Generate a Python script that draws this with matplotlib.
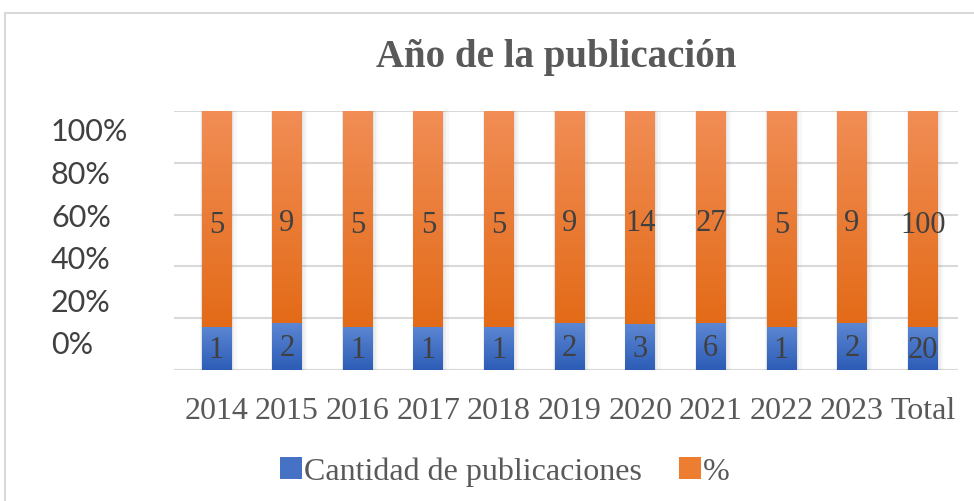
import matplotlib
matplotlib.use("Agg")
import matplotlib.pyplot as plt
import numpy as np
from matplotlib.patches import Rectangle
import matplotlib.transforms as mtrans

years = ['2014', '2015', '2016', '2017', '2018', '2019', '2020', '2021', '2022', '2023', 'Total']
cantidad = [1, 2, 1, 1, 1, 2, 3, 6, 1, 2, 20]
porcentaje = [5, 9, 5, 5, 5, 9, 14, 27, 5, 9, 100]
ytick_vals = [0, 20, 40, 60, 80, 100]
ytick_labels = ['0%', '20%', '40%', '60%', '80%', '100%']

W, H = 974, 502
fig = plt.figure(figsize=(W / 100, H / 100), dpi=100)
fig.patch.set_facecolor('white')

# chart-area border
fig.patches.append(Rectangle((5 / W, -0.1), 1.2, (H - 14) / H + 0.1, transform=fig.transFigure,
                             fill=False, edgecolor='#D9D9D9', linewidth=1.5))

ax = fig.add_axes([174 / W, 1 - 371 / H, (958 - 174) / W, (371 - 112) / H])
x = np.arange(len(years))
c = np.array(cantidad, float)
p = np.array(porcentaje, float)
tot = c + p
share_c = c / tot * 100
share_p = p / tot * 100
bw = 0.42

def grad_bar(xc, bottom, height, ctop, cbot):
    top_rgb = np.array(matplotlib.colors.to_rgb(ctop))
    bot_rgb = np.array(matplotlib.colors.to_rgb(cbot))
    t = np.linspace(0, 1, 64)[:, None]
    img = top_rgb * (1 - t) + bot_rgb * t
    img = img[:, None, :]
    ax.imshow(img, extent=[xc - bw / 2, xc + bw / 2, bottom, bottom + height],
              aspect='auto', zorder=3, interpolation='bilinear')

for i in range(len(years)):
    # soft shadow
    for k, a in [(0.06, 0.05), (0.035, 0.08), (0.015, 0.1)]:
        ax.add_patch(Rectangle((x[i] - bw / 2 - k * 0.3, -0.5), bw + k * 1.6, 100.5,
                               facecolor='#7f7f7f', alpha=a, edgecolor='none', zorder=2))
    grad_bar(x[i], 0, share_c[i], '#5C87D3', '#2C5CB6')
    grad_bar(x[i], share_c[i], share_p[i], '#F18D55', '#E36B18')
    ax.text(x[i], share_c[i] / 2 - 0.5, str(cantidad[i]), ha='center', va='center',
            fontsize=22, family='Liberation Serif', color='#404040', zorder=5)
    ax.text(x[i], share_c[i] + share_p[i] / 2 - 2, str(porcentaje[i]), ha='center', va='center',
            fontsize=22, family='Liberation Serif', color='#404040', zorder=5)

ax.set_xlim(-0.60, len(years) - 0.5)
ax.set_ylim(0, 100)
ax.set_yticks(ytick_vals)
ax.set_yticklabels([])
ax.tick_params(axis='y', length=0)
ax.grid(axis='y', color='#D9D9D9', linewidth=1.5, zorder=0)
ax.set_axisbelow(True)
for s in ax.spines.values():
    s.set_visible(False)
ax.set_xticks(x)
ax.set_xticklabels(years, fontsize=23, family='Liberation Serif', color='#595959')
ax.tick_params(axis='x', length=0, pad=19)
ax.axhline(0, color='#D9D9D9', linewidth=1.5, zorder=1)

# y labels (offset like the reference)
tr = mtrans.blended_transform_factory(fig.transFigure, ax.transAxes)
for v, lab in zip(ytick_vals, ytick_labels):
    ax.text(51 / W, 0.100 + v / 100 * 0.821, lab, transform=tr, ha='left', va='center',
            fontsize=22, family='Lato', color='#404040')

fig.text(556 / W, 1 - 58 / H, 'Año de la publicación', ha='center', va='center',
         fontsize=28, fontweight='bold', family='Liberation Serif', color='#595959')

handles = [Rectangle((0, 0), 1, 1, facecolor='#4572C4'), Rectangle((0, 0), 1, 1, facecolor='#ED7D31')]
leg = fig.legend(handles, ['Cantidad de publicaciones', '%'], loc='center', bbox_to_anchor=(505 / W, 1 - 472 / H),
                 ncol=2, frameon=False, prop={'family': 'Liberation Serif', 'size': 23},
                 handlelength=0.68, handleheight=0.68, handletextpad=0.08, columnspacing=1.15)
for t in leg.get_texts():
    t.set_color('#595959')

fig.savefig('out.png', dpi=100)
